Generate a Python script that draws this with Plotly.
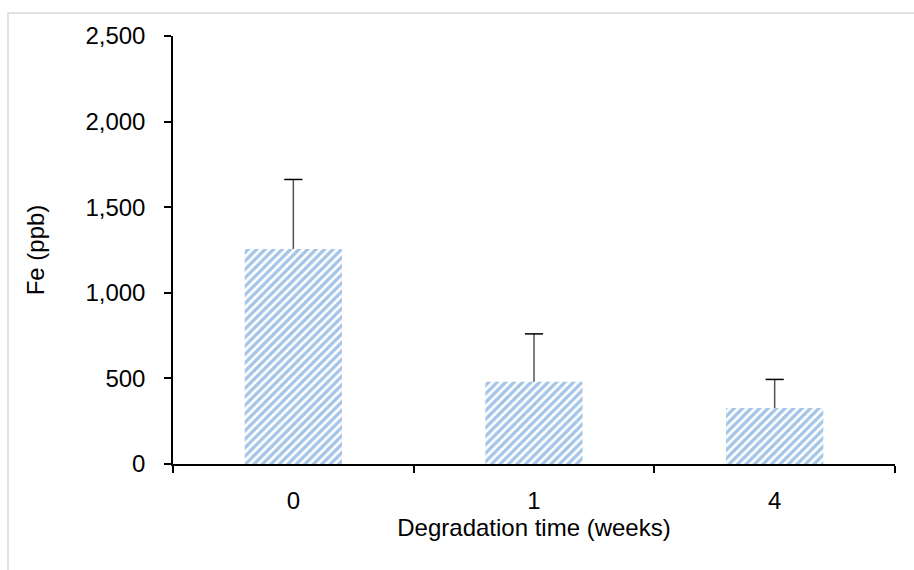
import plotly.graph_objects as go

categories = ["0", "1", "4"]
fe_values = [1256, 481, 327]
fe_errors = [406, 279, 167]
y_ticks = [0, 500, 1000, 1500, 2000, 2500]

W, H = 914, 570
ml, mr, mt, mb = 173, 19, 36, 105.5
pw = W - ml - mr
ph = H - mt - mb

def px_x(p):
    return (p - ml) / pw

def px_y(p):
    return (H - mb - p) / ph

err_tops = [v + e for v, e in zip(fe_values, fe_errors)]

fig = go.Figure()
fig.add_trace(go.Bar(
    x=categories,
    y=fe_values,
    width=0.404,
    marker=dict(
        color="white",
        line=dict(width=0),
        pattern=dict(shape="/", fgcolor="#4A8BD0", bgcolor="white", size=6, solidity=0.55),
    ),
    error_y=dict(type="data", array=fe_errors, symmetric=False, arrayminus=[0, 0, 0],
                 color="#555555", thickness=1.5, width=0),
))
# error bar caps (top only)
fig.add_trace(go.Scatter(
    x=categories,
    y=err_tops,
    mode="markers",
    marker=dict(symbol="line-ew", size=13, line=dict(color="black", width=1.5)),
    hoverinfo="skip",
))

fig.update_layout(
    width=W, height=H,
    margin=dict(l=ml, r=mr, t=mt, b=mb, pad=0),
    paper_bgcolor="white", plot_bgcolor="white",
    font=dict(family="Liberation Sans, Arial", size=24, color="black"),
    showlegend=False,
    xaxis=dict(
        type="category",
        showline=True, linecolor="black", linewidth=1.5,
        ticks="outside", tickson="boundaries", ticklen=7, tickwidth=1.5, tickcolor="black",
        ticklabelstandoff=14,
        showgrid=False, zeroline=False,
        title=dict(text="Degradation time (weeks)", standoff=6, font=dict(size=24)),
    ),
    yaxis=dict(
        range=[0, 2500], tickvals=y_ticks, tickformat=",",
        showline=True, linecolor="black", linewidth=1.5,
        ticks="outside", ticklen=7, tickwidth=1.5, tickcolor="black",
        ticklabelstandoff=14,
        showgrid=False, zeroline=False,
        title=dict(text="Fe (ppb)", standoff=34, font=dict(size=24)),
    ),
    shapes=[dict(
        type="rect", xref="paper", yref="paper",
        x0=px_x(8), x1=px_x(930), y0=px_y(590), y1=px_y(13),
        line=dict(color="#d9d9d9", width=1.5), fillcolor="rgba(0,0,0,0)", layer="below",
    )],
)

fig.write_html("out.html", config={"displayModeBar": False},
               post_script="document.body.style.margin='0';document.body.style.overflow='hidden';")
